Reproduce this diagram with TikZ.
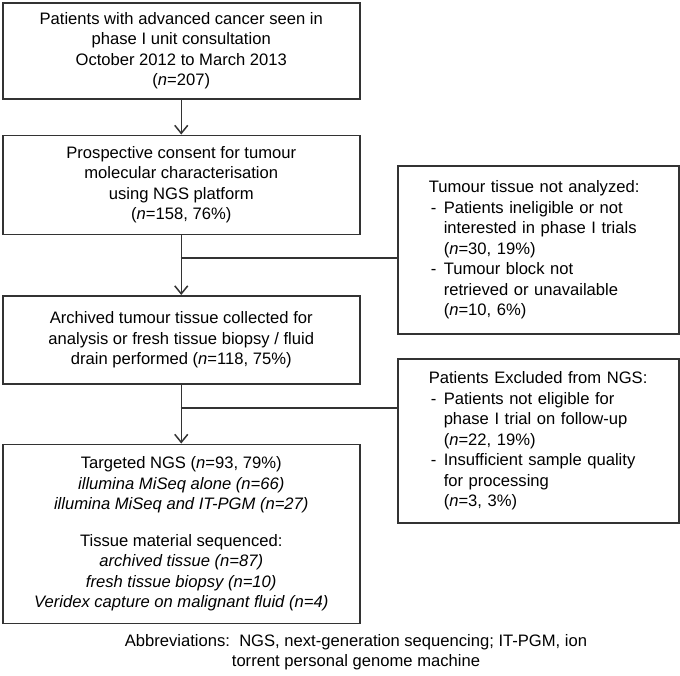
\documentclass[tikz,border=0pt]{standalone}
\usepackage{fontspec}
\setmainfont{Liberation Sans}
\usepackage{tikz}
\usetikzlibrary{positioning}
\usetikzlibrary{arrows.meta}
\definecolor{rahmen}{gray}{0.2}

\newcommand{\strich}{\makebox[15pt][l]{\hspace{2pt}-}}
\newcommand{\einzug}{\hspace*{15pt}}

\begin{document}
\begin{tikzpicture}[x=1pt, y=-1pt,
	font=\fontsize{16.6}{20.5}\selectfont,
	>={Straight Barb[length=8pt,width=13pt]}   %Pfeilspitzen
	]
	\tikzstyle{kasten}=[draw=rahmen, line width=1.5pt, minimum width=357pt, align=center, inner sep=0pt]
	\tikzstyle{seitenkasten}=[draw=rahmen, line width=1.5pt, minimum width=281pt, text width=219pt, align=left, inner sep=0pt]
	\tikzstyle{linie}=[draw=rahmen, line width=1.5pt]
	
	\useasboundingbox (0,0) rectangle (680,675);
	
	% Kaesten links
	\node[kasten, minimum height=96pt, anchor=north west] (start) at (2,2)
		{Patients with advanced cancer seen in\\
		 phase I unit consultation\\
		 October 2012 to March 2013\\
		 (\textit{n}=207)};
	\node[kasten, minimum height=99pt, below=35pt of start] (konsens)
		{Prospective consent for tumour\\
		 molecular characterisation\\
		 using NGS platform\\
		 (\textit{n}=158, 76\%)};
	\node[kasten, minimum height=88pt, below=60pt of konsens] (archiv)
		{Archived tumour tissue collected for\\
		 analysis or fresh tissue biopsy / fluid\\
		 drain performed (\textit{n}=118, 75\%)};
	\node[kasten, minimum height=179pt, below=59pt of archiv] (ngs)
		{Targeted NGS (\textit{n}=93, 79\%)\\
		 \textit{illumina MiSeq alone (n=66)}\\
		 \textit{illumina MiSeq and IT-PGM (n=27)}\\[16pt]
		 Tissue material sequenced:\\
		 \textit{archived tissue (n=87)}\\
		 \textit{fresh tissue biopsy (n=10)}\\
		 \textit{Veridex capture on malignant fluid (n=4)}};
	
	% Kaesten rechts
	\node[seitenkasten, minimum height=168pt, anchor=north west] (nicht) at (397,165)
		{Tumour tissue not analyzed:\\
		 \strich Patients ineligible or not\\
		 \einzug interested in phase I trials\\
		 \einzug (\textit{n}=30, 19\%)\\
		 \strich Tumour block not\\
		 \einzug retrieved or unavailable\\
		 \einzug (\textit{n}=10, 6\%)};
	\node[seitenkasten, minimum height=164pt, anchor=north west] (ausschluss) at (397,358)
		{Patients Excluded from NGS:\\
		 \strich Patients not eligible for\\
		 \einzug phase I trial on follow-up\\
		 \einzug (\textit{n}=22, 19\%)\\
		 \strich Insufficient sample quality\\
		 \einzug for processing\\
		 \einzug (\textit{n}=3, 3\%)};
	
	% Verbindungen
	\coordinate (ab1) at (180.5,258);
	\coordinate (ab2) at (180.5,408);
	\draw[linie,->] (start) -- (konsens);
	\draw[linie,->] (konsens) -- (archiv);
	\draw[linie,->] (archiv) -- (ngs);
	\draw[linie] (ab1) -- (ab1 -| nicht.west);
	\draw[linie] (ab2) -- (ab2 -| ausschluss.west);
	
	% Abkuerzungen
	\node[align=center] (abk) at (356,652)
		{Abbreviations:\ \ NGS, next-generation sequencing; IT-PGM, ion\\
		 torrent personal genome machine};
\end{tikzpicture}
\end{document}
